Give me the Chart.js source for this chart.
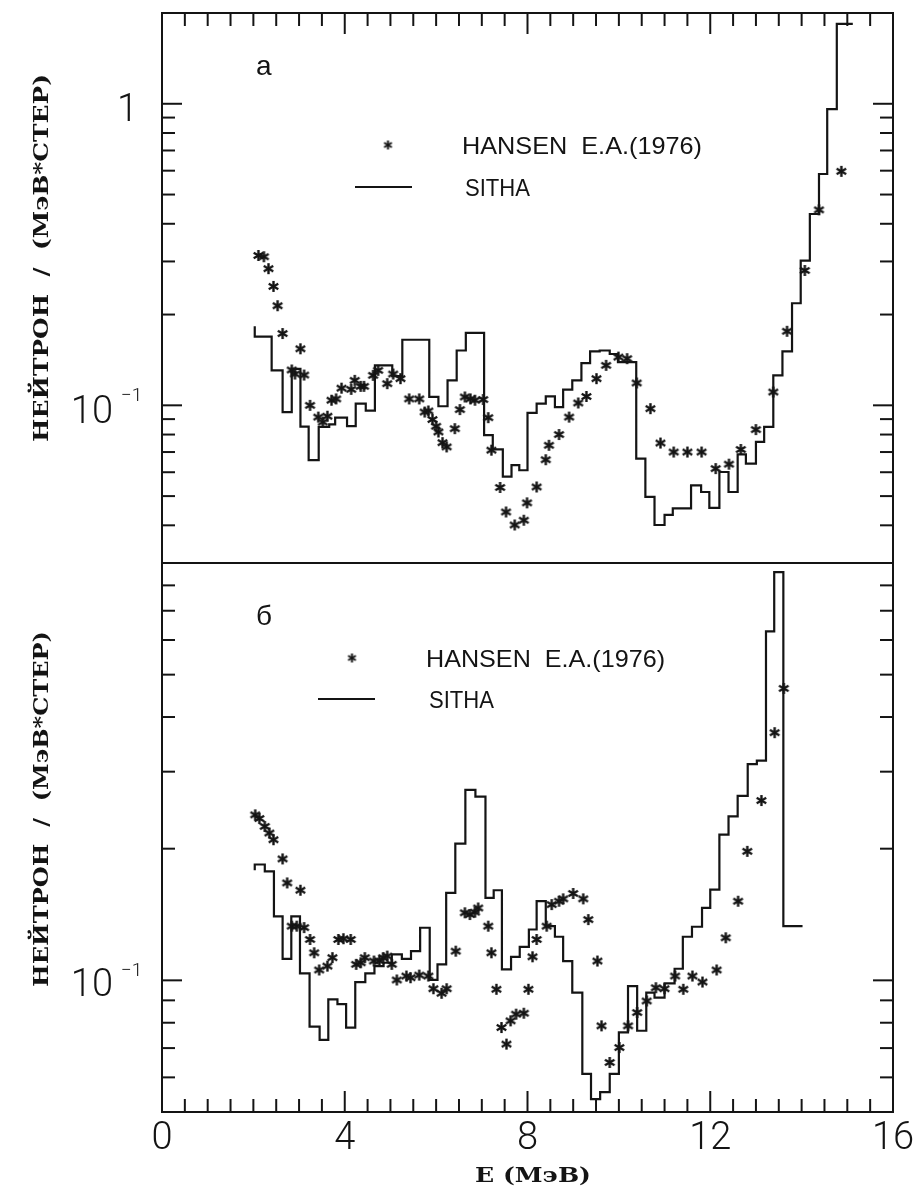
<!DOCTYPE html>
<html lang="ru">

<head>
    <meta charset="UTF-8">
    <title>HANSEN / SITHA</title>
    <script src="https://cdnjs.cloudflare.com/ajax/libs/Chart.js/4.4.1/chart.umd.min.js"></script>
    <style>
        body { margin: 0; background: #fff; width: 921px; height: 1191px; overflow: hidden; position: relative; }
        canvas { position: absolute; left: 0; }
        #top { top: 0; }
        #bottom { top: 555px; }
    </style>
</head>

<body>
    <canvas id="top" width="921" height="575"></canvas>
    <canvas id="bottom" width="921" height="636"></canvas>
</body>
<script>
    var xTickLabels = [0, 4, 8, 12, 16];

    // panel a
    var topEdges = [2.03, 2.4, 2.64, 2.84, 3.03, 3.21, 3.43, 3.66, 3.79, 4.05, 4.24, 4.46, 4.66, 5.04, 5.26, 5.85,
        6.05, 6.25, 6.45, 6.65, 7.05, 7.24, 7.46, 7.65, 7.82, 8.0, 8.2, 8.4, 8.6, 8.78, 8.98, 9.18, 9.37, 9.58,
        9.8, 9.98, 10.38, 10.58, 10.78, 11.0, 11.18, 11.58, 11.8, 11.98, 12.2, 12.4, 12.6, 12.78, 13.0, 13.18,
        13.38, 13.58, 13.79, 13.98, 14.18, 14.38, 14.56, 14.77, 14.95, 15.12];
    var topSitha = [0.183, 0.169, 0.1306, 0.095, 0.132, 0.085, 0.0658, 0.0848, 0.0865, 0.091, 0.0853, 0.1013, 0.096,
        0.1357, 0.125, 0.165, 0.1066, 0.0993, 0.121, 0.152, 0.174, 0.0796, 0.0714, 0.058, 0.0633, 0.0609, 0.0944,
        0.1013, 0.107, 0.0987, 0.1127, 0.121, 0.138, 0.151, 0.152, 0.148, 0.139, 0.0666, 0.0497, 0.0401, 0.0433,
        0.0455, 0.0543, 0.0516, 0.0457, 0.0601, 0.0516, 0.0688, 0.0641, 0.0756, 0.0848, 0.1257, 0.151, 0.218,
        0.302, 0.431, 0.585, 0.96, 1.84];
    var topHansenE = [2.11, 2.23, 2.33, 2.44, 2.53, 2.64, 2.84, 2.91, 3.03, 3.11, 3.24, 3.42, 3.52, 3.62, 3.71,
        3.81, 3.93, 4.14, 4.22, 4.35, 4.42, 4.62, 4.73, 4.93, 5.06, 5.22, 5.41, 5.63, 5.75, 5.83, 5.92, 6.0, 6.05,
        6.14, 6.23, 6.41, 6.52, 6.63, 6.75, 6.85, 7.03, 7.14, 7.21, 7.40, 7.53, 7.72, 7.92, 7.99, 8.2, 8.4, 8.47,
        8.69, 8.91, 9.11, 9.29, 9.51, 9.72, 9.99, 10.18, 10.39, 10.69, 10.91, 11.2, 11.5, 11.81, 12.12, 12.41,
        12.67, 13.0, 13.38, 13.68, 14.07, 14.38, 14.87];
    var topHansenV = [0.314, 0.311, 0.284, 0.248, 0.214, 0.173, 0.131, 0.127, 0.154, 0.126, 0.100, 0.0914, 0.088,
        0.092, 0.104, 0.105, 0.114, 0.113, 0.121, 0.1156, 0.1156, 0.1257, 0.1306, 0.118, 0.127, 0.1226, 0.105,
        0.105, 0.095, 0.0958, 0.0897, 0.0852, 0.0816, 0.0752, 0.0728, 0.0837, 0.0968, 0.1066, 0.105, 0.104,
        0.1045, 0.091, 0.071, 0.0534, 0.0443, 0.0401, 0.0416, 0.0475, 0.0536, 0.066, 0.0737, 0.080, 0.0914,
        0.1018, 0.107, 0.1226, 0.1357, 0.1445, 0.1428, 0.1186, 0.0975, 0.075, 0.070, 0.070, 0.070, 0.0617,
        0.0638, 0.0714, 0.0831, 0.1107, 0.176, 0.28, 0.445, 0.597];
    var topYTicks = [0.04, 0.05, 0.06, 0.07, 0.08, 0.09, 0.1, 0.2, 0.3, 0.4, 0.5, 0.6, 0.7, 0.8, 0.9, 1];

    // panel б
    var botEdges = [2.03, 2.25, 2.45, 2.64, 2.83, 3.02, 3.23, 3.45, 3.64, 3.84, 4.03, 4.23, 4.45, 4.65, 4.85,
        5.03, 5.25, 5.45, 5.65, 5.86, 6.03, 6.22, 6.42, 6.64, 6.86, 7.08, 7.26, 7.44, 7.64, 7.83, 8.03, 8.2, 8.4,
        8.6, 8.78, 8.98, 9.2, 9.39, 9.59, 9.8, 10.0, 10.2, 10.4, 10.6, 10.78, 11.0, 11.22, 11.4, 11.6, 11.82, 12.0,
        12.2, 12.4, 12.6, 12.82, 13.02, 13.22, 13.4, 13.6, 13.79, 14.02];
    var botSitha = [0.1785, 0.184, 0.1775, 0.140, 0.112, 0.140, 0.1037, 0.0784, 0.0731, 0.0905, 0.0882, 0.078,
        0.0991, 0.1037, 0.1078, 0.1097, 0.1146, 0.112, 0.1166, 0.1319, 0.1002, 0.1088, 0.1585, 0.2053, 0.2726,
        0.263, 0.1544, 0.1607, 0.106, 0.1132, 0.1193, 0.1307, 0.1517, 0.133, 0.1258, 0.1107, 0.0937, 0.0611,
        0.0535, 0.0555, 0.0611, 0.076, 0.097, 0.0767, 0.0937, 0.0913, 0.0984, 0.1063, 0.1258, 0.1326, 0.1464,
        0.1612, 0.2153, 0.237, 0.2641, 0.312, 0.318, 0.628, 0.858, 0.133];
    var botHansenE = [2.04, 2.13, 2.25, 2.35, 2.44, 2.64, 2.74, 2.84, 2.95, 3.03, 3.11, 3.24, 3.33, 3.44, 3.62,
        3.73, 3.86, 3.97, 4.13, 4.25, 4.35, 4.44, 4.64, 4.76, 4.84, 4.93, 5.03, 5.14, 5.35, 5.44, 5.63, 5.83, 5.94,
        6.12, 6.23, 6.43, 6.63, 6.74, 6.85, 6.92, 7.14, 7.21, 7.32, 7.43, 7.54, 7.63, 7.75, 7.92, 8.02, 8.11, 8.2,
        8.42, 8.53, 8.69, 8.78, 9.0, 9.22, 9.33, 9.53, 9.62, 9.8, 10.01, 10.2, 10.4, 10.61, 10.81, 11.0, 11.23,
        11.41, 11.61, 11.83, 12.14, 12.34, 12.61, 12.81, 13.12, 13.41, 13.61];
    var botHansenV = [0.239, 0.2344, 0.2249, 0.2172, 0.2097, 0.1895, 0.167, 0.133, 0.133, 0.1607, 0.132, 0.124,
        0.1156, 0.1056, 0.1078, 0.1127, 0.124, 0.1245, 0.124, 0.1088, 0.1097, 0.1127, 0.1107, 0.1107, 0.1127,
        0.1136, 0.1088, 0.1002, 0.1023, 0.1014, 0.1028, 0.1023, 0.0957, 0.0934, 0.0957, 0.1166, 0.1427, 0.1414,
        0.1432, 0.1464, 0.133, 0.1156, 0.0954, 0.078, 0.0715, 0.0808, 0.0837, 0.0841, 0.0954, 0.1132, 0.124,
        0.133, 0.149, 0.1517, 0.1536, 0.158, 0.1536, 0.1377, 0.1107, 0.0787, 0.0649, 0.0702, 0.0787, 0.0844,
        0.0897, 0.0962, 0.0957, 0.1023, 0.0954, 0.1023, 0.0991, 0.1056, 0.1251, 0.1517, 0.1972, 0.2577, 0.3684,
        0.465];
    var botYTicks = [0.06, 0.07, 0.08, 0.09, 0.1, 0.2, 0.3, 0.4, 0.5, 0.6, 0.7, 0.8];

    var INK = '#141414';
    var numFont = '300 38px Roboto, "Liberation Sans", sans-serif';
    var titleFont = 'bold 21px "DejaVu Serif", serif';
    var legFont = '24px "Liberation Sans", Arial, sans-serif';

    function makeStar(size, lw) {
        var c = document.createElement('canvas');
        c.width = c.height = size;
        var g = c.getContext('2d'), r = size / 2 - 1;
        g.strokeStyle = INK;
        g.lineWidth = lw;
        g.translate(size / 2, size / 2);
        [90, 30, 150].forEach(function (a) {
            var dx = Math.cos(a * Math.PI / 180) * r, dy = Math.sin(a * Math.PI / 180) * r;
            g.beginPath();
            g.moveTo(-dx, -dy);
            g.lineTo(dx, dy);
            g.stroke();
        });
        return c;
    }
    var star = makeStar(13, 2.4);
    var legStar = makeStar(11, 2);

    function steps(edges, vals) {
        var out = [];
        for (var i = 0; i < vals.length; i++) out.push({ x: edges[i], y: vals[i] });
        out.push({ x: edges[vals.length], y: vals[vals.length - 1] });
        return out;
    }

    function points(xs, ys) {
        return xs.map(function (x, i) { return { x: x, y: ys[i] }; });
    }

    function fitText(ctx, txt, x, y, w, font, rot) {
        ctx.save();
        ctx.font = font;
        ctx.translate(x, y);
        if (rot) ctx.rotate(-Math.PI / 2);
        var m = ctx.measureText(txt).width;
        ctx.scale(w / m, 1);
        ctx.fillText(txt, 0, 0);
        ctx.restore();
    }

    function seg(ctx, x1, y1, x2, y2) {
        ctx.beginPath();
        ctx.moveTo(x1, y1);
        ctx.lineTo(x2, y2);
        ctx.stroke();
    }

    var framePlugin = {
        id: 'frame',
        afterDatasetsDraw: function (chart, args, o) {
            var ctx = chart.ctx, a = chart.chartArea, sx = chart.scales.x, sy = chart.scales.y;
            ctx.save();
            ctx.strokeStyle = INK;
            ctx.fillStyle = INK;
            ctx.lineWidth = 2;
            ctx.strokeRect(a.left, a.top, a.right - a.left, a.bottom - a.top);

            // x ticks, inside, on one edge
            var ey = o.xSide == 'top' ? a.top : a.bottom, dir = o.xSide == 'top' ? 1 : -1;
            for (var e = 0.5; e < 16; e += 0.5) {
                var px = sx.getPixelForValue(e);
                seg(ctx, px, ey, px, ey + dir * (e % 4 == 0 ? 21 : 13));
            }
            // y ticks both sides
            o.yTicks.forEach(function (v) {
                var py = sy.getPixelForValue(v);
                var len = (v == 1 || v == 0.1) ? 20 : 13;
                seg(ctx, a.left, py, a.left + len, py);
                seg(ctx, a.right, py, a.right - len, py);
            });

            // y tick labels
            ctx.textAlign = 'right';
            ctx.textBaseline = 'alphabetic';
            o.yLabels.forEach(function (l) {
                var py = sy.getPixelForValue(l.v);
                ctx.font = numFont;
                ctx.fillText(l.t, l.x, py + l.dy + 13.5);
                if (l.e) {
                    ctx.textAlign = 'left';
                    ctx.font = '300 19px Roboto, "Liberation Sans", sans-serif';
                    ctx.fillText(l.e, l.x + 8, py - 4);
                    ctx.textAlign = 'right';
                }
            });

            // x tick labels + title
            if (o.xLabels) {
                ctx.textAlign = 'center';
                ctx.font = numFont;
                xTickLabels.forEach(function (v) {
                    ctx.fillText(String(v), sx.getPixelForValue(v), o.xLabels.y);
                });
                ctx.textAlign = 'left';
                fitText(ctx, 'E (МэВ)', o.xLabels.tx - 58, o.xLabels.ty, 116, titleFont, false);
            }

            // y title
            ctx.textAlign = 'left';
            fitText(ctx, 'НЕЙТРОН  /  (МэВ*СТЕР)', o.title.x, o.title.y0, o.title.y0 - o.title.y1, titleFont, true);

            // panel letter
            ctx.font = '28px "Liberation Sans", Arial, sans-serif';
            ctx.fillText(o.panel.t, o.panel.x, o.panel.y);

            // legend
            var g = o.legend;
            ctx.drawImage(legStar, g.star[0] - 5.5, g.star[1] - 5.5, 11, 11);
            fitText(ctx, 'HANSEN  E.A.(1976)', g.text[0], g.text[1], g.text[2], legFont, false);
            seg(ctx, g.line[0], g.line[2], g.line[1], g.line[2]);
            fitText(ctx, 'SITHA', g.sitha[0], g.sitha[1], g.sitha[2], legFont, false);
            ctx.restore();
        }
    };

    function makeChart(id, edges, sitha, hE, hV, ymin, ymax, pad, frame) {
        return new Chart(document.getElementById(id), {
            type: 'scatter',
            data: {
                datasets: [{
                    type: 'line',
                    label: 'SITHA',
                    data: steps(edges, sitha),
                    stepped: 'after',
                    borderColor: INK,
                    borderWidth: 2.2,
                    pointRadius: 0,
                    fill: false
                }, {
                    label: 'HANSEN E.A.(1976)',
                    data: points(hE, hV),
                    pointStyle: star,
                    pointRadius: 6.5,
                    showLine: false
                }]
            },
            options: {
                responsive: false,
                animation: false,
                events: [],
                layout: { padding: pad },
                plugins: { legend: { display: false }, tooltip: { enabled: false }, frame: frame },
                scales: {
                    x: { type: 'linear', min: 0, max: 16, display: false },
                    y: { type: 'logarithmic', min: ymin, max: ymax, display: false }
                }
            },
            plugins: [framePlugin]
        });
    }

    makeChart('top', topEdges, topSitha, topHansenE, topHansenV, 0.03, 2,
        { left: 162, right: 28, top: 13, bottom: 12 },
        {
            xSide: 'top',
            yTicks: topYTicks,
            yLabels: [{ v: 1, t: '1', x: 138, dy: 4 }, { v: 0.1, t: '10', e: '\u22121', x: 113, dy: 4 }],
            xLabels: null,
            title: { x: 48, y0: 442, y1: 74 },
            panel: { t: 'a', x: 256, y: 75 },
            legend: { star: [388, 145], text: [462, 154, 240], line: [355, 412, 187], sitha: [465, 196, 65] }
        });

    makeChart('bottom', botEdges, botSitha, botHansenE, botHansenV, 0.05, 0.9,
        { left: 162, right: 28, top: 8, bottom: 79 },
        {
            xSide: 'bottom',
            yTicks: botYTicks,
            yLabels: [{ v: 0.1, t: '10', e: '\u22121', x: 113, dy: 2 }],
            xLabels: { y: 594, tx: 533, ty: 627 },
            title: { x: 48, y0: 432, y1: 76 },
            panel: { t: 'б', x: 256, y: 70 },
            legend: { star: [352, 103], text: [426, 112, 239], line: [318, 375, 144], sitha: [429, 153, 65] }
        });
</script>

</html>
